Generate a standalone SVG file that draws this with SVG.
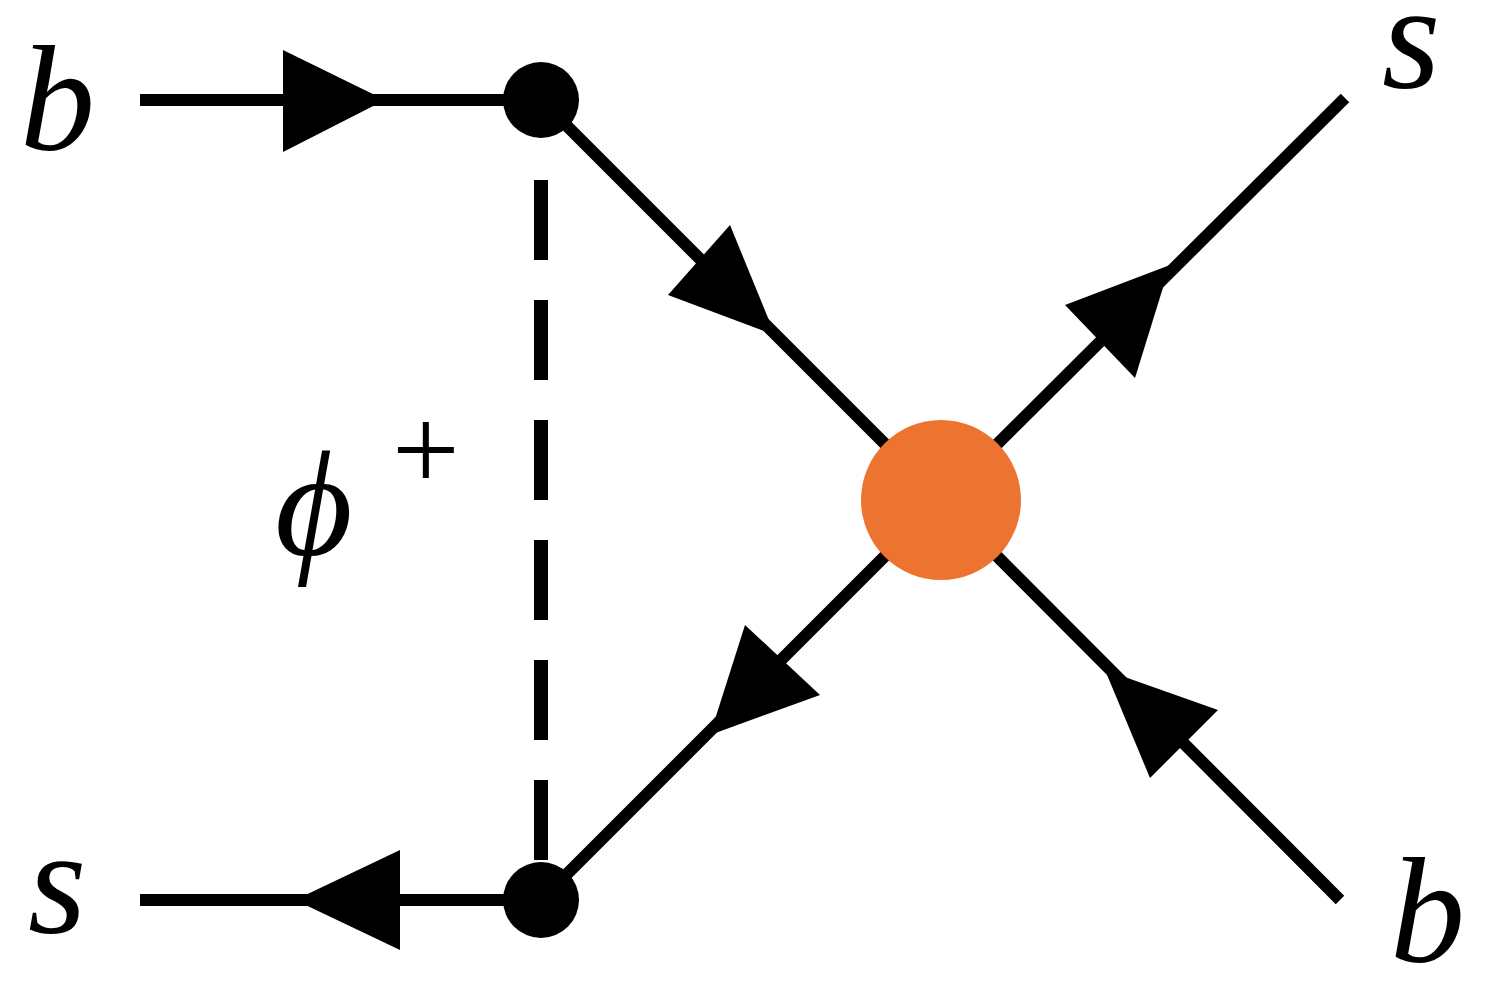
<svg xmlns="http://www.w3.org/2000/svg" width="1494" height="990" viewBox="0 0 1494 990">
<style>
.l{stroke:#000;stroke-width:12;fill:none}
.a{fill:#000}
.t{font-family:"Liberation Serif",serif;font-style:italic;font-size:150px;fill:#000}
</style>
<rect width="1494" height="990" fill="#fff"/>
<g id="connectors">
<line class="l" x1="140" y1="100" x2="541" y2="100"/>
<line class="l" x1="541" y1="100" x2="941" y2="500"/>
<line class="l" x1="941" y1="500" x2="1345" y2="98"/>
<line class="l" x1="941" y1="500" x2="1340" y2="900"/>
<line class="l" x1="941" y1="500" x2="541" y2="900"/>
<line class="l" x1="541" y1="900" x2="140" y2="900"/>
<line x1="541" y1="180" x2="541" y2="880" stroke="#000" stroke-width="14" stroke-dasharray="80,40"/>
<polygon class="a" points="385,100 283,50 283,152"/>
<polygon class="a" points="775,335 668,295 730,225"/>
<polygon class="a" points="1170,265 1065,305 1135,378"/>
<polygon class="a" points="1105,670 1150,778 1218,710"/>
<polygon class="a" points="710,735 745,625 820,695"/>
<polygon class="a" points="295,900 400,850 400,950"/>
</g>
<g id="v1"><circle cx="541" cy="100" r="38"/></g>
<g id="v2"><circle cx="541" cy="900" r="38"/></g>
<g id="blob"><circle cx="941" cy="500" r="80" fill="#EC7430"/></g>
<g id="labels">
<text class="t" x="20" y="150">b</text>
<text class="t" x="1382" y="88">s</text>
<text class="t" x="28" y="933">s</text>
<text class="t" x="1390" y="962">b</text>
<text class="t" x="275" y="555">ϕ</text>
<text x="392" y="490" font-family="Liberation Serif,serif" font-size="120" fill="#000">+</text>
</g>
</svg>
